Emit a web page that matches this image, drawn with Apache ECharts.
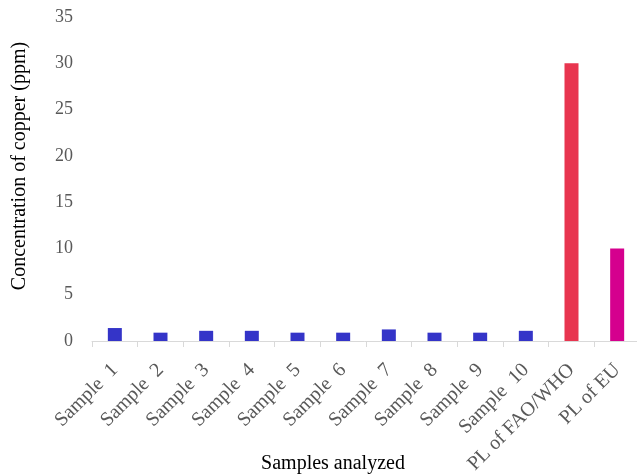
<!DOCTYPE html>
<html>
<head>
<meta charset="utf-8">
<script src="https://cdn.jsdelivr.net/npm/echarts@6/dist/echarts.min.js"></script>
<style>
  html, body { margin: 0; padding: 0; background: #fff; }
  #chart { width: 637px; height: 475px; }
</style>
</head>
<body>
<div id="chart"></div>
<script>
// Copper concentration per sample, with the permissible limits for comparison
const categories = [
  'Sample  1', 'Sample  2', 'Sample  3', 'Sample  4', 'Sample  5',
  'Sample  6', 'Sample  7', 'Sample  8', 'Sample  9', 'Sample  10',
  'PL of FAO/WHO', 'PL of EU'
];
const copperValues = [1.4, 0.9, 1.1, 1.1, 0.9, 0.9, 1.25, 0.9, 0.9, 1.1, 30, 10];
const barColors = [
  '#3434c8', '#3434c8', '#3434c8', '#3434c8', '#3434c8',
  '#3434c8', '#3434c8', '#3434c8', '#3434c8', '#3434c8',
  '#e8354f', '#d5008e'
];
const yTicks = { min: 0, max: 35, interval: 5 };

const chart = echarts.init(document.getElementById('chart'), null, { renderer: 'canvas' });
const serif = '"Liberation Serif", "DejaVu Serif", serif';

chart.setOption({
  animation: false,
  grid: {
    left: 92, top: 17, width: 548, bottom: 134,
    containLabel: false,
    outerBoundsMode: 'none'
  },
  xAxis: {
    type: 'category',
    data: categories,
    name: 'Samples analyzed',
    nameLocation: 'middle',
    nameGap: 113,
    nameMoveOverlap: false,
    nameTextStyle: { fontFamily: serif, fontSize: 20, color: '#000', padding: [0, 66, 0, 0] },
    axisLine: { lineStyle: { color: '#d9d9d9', width: 1 } },
    axisTick: { show: true, length: 6, lineStyle: { color: '#d9d9d9' } },
    axisLabel: {
      interval: 0,
      rotate: 45,
      margin: 26,
      fontFamily: serif,
      fontSize: 20,
      color: '#595959'
    }
  },
  yAxis: {
    type: 'value',
    min: yTicks.min,
    max: yTicks.max,
    interval: yTicks.interval,
    name: 'Concentration of copper (ppm)',
    nameLocation: 'middle',
    nameGap: 62,
    nameMoveOverlap: false,
    nameTextStyle: { fontFamily: serif, fontSize: 20, color: '#000', padding: [0, 0, 0, 26] },
    axisLine: { show: false },
    axisTick: { show: false },
    splitLine: { show: false },
    axisLabel: { margin: 19, fontFamily: serif, fontSize: 18, color: '#595959' }
  },
  series: [{
    type: 'bar',
    barWidth: 14,
    data: copperValues.map((v, i) => ({ value: v, itemStyle: { color: barColors[i] } }))
  }]
});
</script>
</body>
</html>
